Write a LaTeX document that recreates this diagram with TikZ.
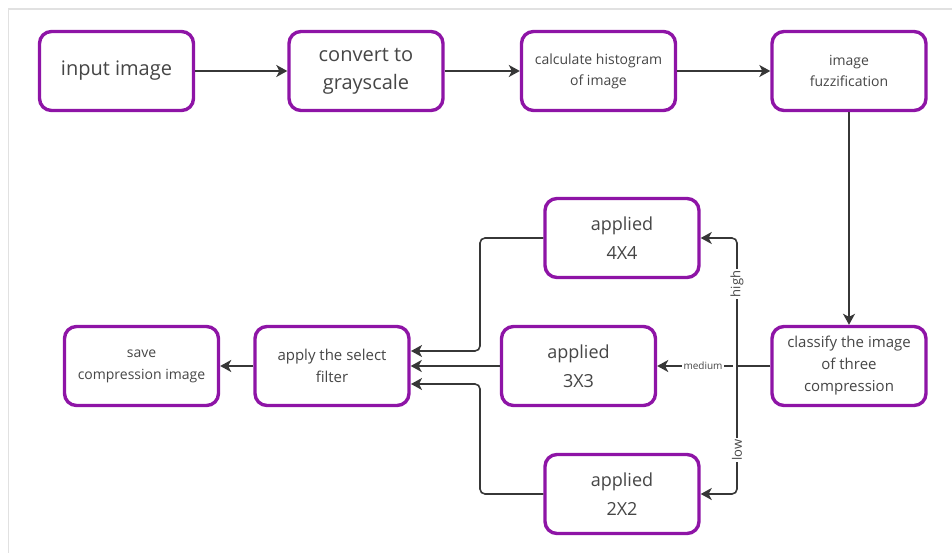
\documentclass[tikz,border=0pt]{standalone}
\usepackage{fontspec}
\setmainfont{Open Sans}
\usetikzlibrary{arrows.meta}
\definecolor{boxpurple}{RGB}{142,20,166}
\definecolor{txtgray}{RGB}{70,70,70}
\definecolor{linegray}{RGB}{55,55,55}
\definecolor{framegray}{RGB}{225,225,225}
\tikzset{
  procbox/.style={draw=boxpurple, line width=3.4pt, rounded corners=12pt, fill=white,
    minimum width=154pt, minimum height=79pt, align=center, text=txtgray, inner sep=2pt},
  conn/.style={draw=linegray, line width=1.6pt, -{Stealth[length=11pt,width=12pt,inset=3pt]}},
  connplain/.style={draw=linegray, line width=1.6pt},
  lbl/.style={text=txtgray, fill=white, inner sep=1.5pt}
}
\begin{document}
\begin{tikzpicture}[x=1pt,y=-1pt]
\useasboundingbox (0,0) rectangle (952,553);
\draw[framegray, line width=1.2pt] (8.5,553) -- (8.5,9) -- (952,9);
% top row
\node[procbox, font=\fontsize{20}{24}\selectfont] (input) at (116.5,71) {input image};
\node[procbox, font=\fontsize{20}{28}\selectfont] (gray) at (366,71) {convert to\\grayscale};
\node[procbox, font=\fontsize{14}{21}\selectfont] (hist) at (598.5,71) {calculate histogram\\of image};
\node[procbox, font=\fontsize{14}{21}\selectfont] (fuzz) at (849,71) {image\\fuzzification};
% right
\node[procbox, font=\fontsize{15}{22}\selectfont] (class) at (849,366) {classify the image\\of three\\compression};
% middle
\node[procbox, font=\fontsize{18}{29}\selectfont] (a4) at (622,238) {applied\\4X4};
\node[procbox, font=\fontsize{18}{29}\selectfont] (a3) at (578.5,366) {applied\\3X3};
\node[procbox, font=\fontsize{18}{29}\selectfont] (a2) at (622,494) {applied\\2X2};
% left
\node[procbox, font=\fontsize{15}{22}\selectfont] (filt) at (332,366) {apply the select\\filter};
\node[procbox, font=\fontsize{14}{22}\selectfont] (save) at (141.5,366) {save\\compression image};
% coordinates
\coordinate (tr) at (737,366);
\coordinate (lx) at (480,366);
\coordinate (fin4) at (411,351);
\coordinate (fin2) at (411,384);
% top connectors
\draw[conn] (input) -- (gray);
\draw[conn] (gray) -- (hist);
\draw[conn] (hist) -- (fuzz);
\draw[conn] (fuzz) -- (class);
% classify branches
\draw[connplain] (class.west) -- (tr |- class.west);
\draw[conn, rounded corners=5pt] (tr) -- (tr |- a4.east) -- (a4.east);
\draw[conn, rounded corners=5pt] (tr) -- (tr |- a2.east) -- (a2.east);
\draw[conn] ([xshift=-4pt]tr) -- (a3.east);
\node[lbl, rotate=90, font=\fontsize{13}{13}\selectfont] (lh) at (737,284) {high};
\node[lbl, rotate=90, font=\fontsize{13}{13}\selectfont] (ll) at (737,450) {low};
\node[lbl, font=\fontsize{10}{10}\selectfont] (lm) at (703,366) {medium};
% into filter
\draw[conn, rounded corners=5pt] (a4.west) -- (lx |- a4.west) -- (lx |- fin4) -- (fin4);
\draw[conn] (a3.west) -- (filt.east);
\draw[conn, rounded corners=5pt] (a2.west) -- (lx |- a2.west) -- (lx |- fin2) -- (fin2);
\draw[conn] (filt) -- (save);
\end{tikzpicture}
\end{document}
